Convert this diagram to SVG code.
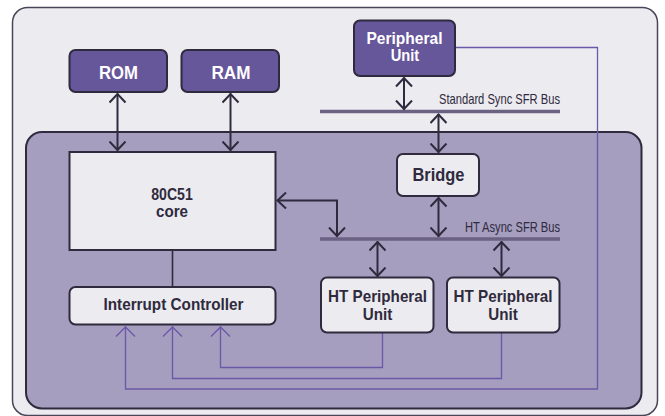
<svg xmlns="http://www.w3.org/2000/svg" width="665" height="416" viewBox="0 0 665 416">
<defs>
<style>
.frame{fill:#ecebef;stroke:#4a4557;stroke-width:1.5}
.inner{fill:#a59ebf;stroke:#2f2a3d;stroke-width:2}
.dk{fill:#66569a;stroke:#2f2a3d;stroke-width:2}
.lt{fill:#ecebef;stroke:#2f2a3d;stroke-width:2}
text{font-family:"Liberation Sans",Arial,sans-serif}
.tw{font-weight:bold;fill:#ffffff;text-anchor:middle;font-size:16.5px}
.td{font-weight:bold;fill:#2f2a3d;text-anchor:middle;font-size:16.5px}
.tb{fill:#2f2a3d;text-anchor:end;font-size:14.5px}
.bus{stroke:#6b6283;stroke-width:3.5;fill:none}
.arr{stroke:#2f2a3d;stroke-width:2;fill:none;marker-start:url(#ad);marker-end:url(#ad)}
.irq{stroke:#6a58a8;stroke-width:1.3;fill:none;marker-end:url(#ai)}
</style>
<marker id="ad" markerUnits="userSpaceOnUse" viewBox="0 0 11 18" refX="10" refY="9" markerWidth="11" markerHeight="18" orient="auto-start-reverse">
<path d="M1,1 L9.5,9 L1,17" fill="none" stroke="#2f2a3d" stroke-width="2"/>
</marker>
<marker id="ai" markerUnits="userSpaceOnUse" viewBox="0 0 12 22" refX="11" refY="11" markerWidth="12" markerHeight="22" orient="auto">
<path d="M1,1.5 L10.5,11 L1,20.5" fill="none" stroke="#6a58a8" stroke-width="1.3"/>
</marker>
</defs>
<rect width="665" height="416" fill="#ffffff"/>
<rect id="frame" class="frame" x="12.5" y="7.5" width="645" height="408" rx="15"/>
<rect id="ht-domain" class="inner" x="26" y="132" width="615.5" height="276.5" rx="16"/>

<g id="connectors">
<line class="bus" x1="320" y1="111.5" x2="560" y2="111.5"/>
<line class="bus" x1="320" y1="239" x2="560" y2="239"/>
<text class="tb" x="560" y="104" textLength="121" lengthAdjust="spacingAndGlyphs">Standard Sync SFR Bus</text>
<text class="tb" x="560" y="232" textLength="95" lengthAdjust="spacingAndGlyphs">HT Async SFR Bus</text>
<line class="arr" x1="117.5" y1="93.5" x2="117.5" y2="150.5"/>
<line class="arr" x1="230.5" y1="93.5" x2="230.5" y2="150.5"/>
<line class="arr" x1="404" y1="77.5" x2="404" y2="109.5"/>
<line class="arr" x1="438.5" y1="114" x2="438.5" y2="152.5"/>
<line class="arr" x1="438.5" y1="197.5" x2="438.5" y2="236.5"/>
<path class="arr" d="M277,200.5 H337 V236.5"/>
<line class="arr" x1="377.5" y1="241.5" x2="377.5" y2="276.5"/>
<line class="arr" x1="501.5" y1="241.5" x2="501.5" y2="276.5"/>
<line x1="172.5" y1="250" x2="172.5" y2="287" stroke="#2f2a3d" stroke-width="1.6"/>
<path class="irq" d="M455,47.5 H597.5 V389 H125.5 V326.5"/>
<path class="irq" d="M501.5,333 V378.5 H172.5 V326.5"/>
<path class="irq" d="M382.5,333 V367.5 H220.5 V326.5"/>
</g>

<g id="rom">
<rect class="dk" x="69.5" y="50" width="97.5" height="42" rx="6"/>
<text class="tw" x="118.5" y="78.5" style="font-size:17.5px" textLength="39" lengthAdjust="spacingAndGlyphs">ROM</text>
</g>
<g id="ram">
<rect class="dk" x="181.5" y="50" width="97.5" height="42" rx="6"/>
<text class="tw" x="231" y="78.5" style="font-size:17.5px" textLength="39" lengthAdjust="spacingAndGlyphs">RAM</text>
</g>
<g id="peripheral-unit">
<rect class="dk" x="354" y="20.5" width="101" height="55.5" rx="6"/>
<text class="tw" x="404.5" y="43.5" textLength="76" lengthAdjust="spacingAndGlyphs">Peripheral</text>
<text class="tw" x="405" y="61" textLength="28.5" lengthAdjust="spacingAndGlyphs">Unit</text>
</g>
<g id="core">
<rect class="lt" x="69.5" y="152" width="206" height="98"/>
<text class="td" x="172" y="200" textLength="41.5" lengthAdjust="spacingAndGlyphs">80C51</text>
<text class="td" x="172" y="217" textLength="32" lengthAdjust="spacingAndGlyphs">core</text>
</g>
<g id="bridge">
<rect class="lt" x="397" y="154" width="82" height="42" rx="6"/>
<text class="td" x="438.5" y="181" style="font-size:17.5px" textLength="52" lengthAdjust="spacingAndGlyphs">Bridge</text>
</g>
<g id="interrupt-controller">
<rect class="lt" x="69.5" y="287" width="206" height="37.5" rx="6"/>
<text class="td" x="173.5" y="310" textLength="140" lengthAdjust="spacingAndGlyphs">Interrupt Controller</text>
</g>
<g id="ht-peripheral-1">
<rect class="lt" x="321" y="277.5" width="112.5" height="55" rx="6"/>
<text class="td" x="377.5" y="301.5" textLength="99" lengthAdjust="spacingAndGlyphs">HT Peripheral</text>
<text class="td" x="377.5" y="320" textLength="29.5" lengthAdjust="spacingAndGlyphs">Unit</text>
</g>
<g id="ht-peripheral-2">
<rect class="lt" x="447" y="277.5" width="112.5" height="55" rx="6"/>
<text class="td" x="503" y="301.5" textLength="99" lengthAdjust="spacingAndGlyphs">HT Peripheral</text>
<text class="td" x="503" y="320" textLength="29.5" lengthAdjust="spacingAndGlyphs">Unit</text>
</g>
</svg>
